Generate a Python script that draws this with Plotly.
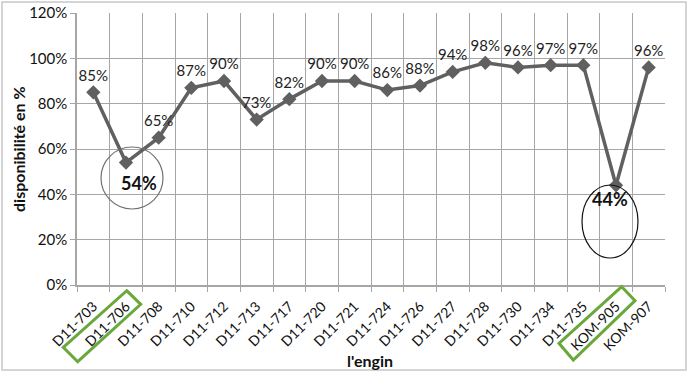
import plotly.graph_objects as go

engins = ["D11-703", "D11-706", "D11-708", "D11-710", "D11-712", "D11-713", "D11-717",
          "D11-720", "D11-721", "D11-724", "D11-726", "D11-727", "D11-728", "D11-730",
          "D11-734", "D11-735", "KOM-905", "KOM-907"]
dispo = [85, 54, 65, 87, 90, 73, 82, 90, 90, 86, 88, 94, 98, 96, 97, 97, 44, 96]
highlight = ["D11-706", "KOM-905"]
y_ticks = [0, 20, 40, 60, 80, 100, 120]

# plot area in pixels
L, R, T, B = 77, 665, 13, 285
W, H = 690, 375


def px(x):
    return (x - L) / (R - L)


def py(y):
    return (B - y) / (B - T)


labels = ["" if e in highlight else f"{v}%" for e, v in zip(engins, dispo)]
font = "Lato, Open Sans, sans-serif"

fig = go.Figure()
fig.add_trace(go.Scatter(
    x=engins, y=dispo, mode="lines+markers+text",
    text=labels, textposition="top center",
    textfont=dict(family=font, size=15, color="#222222"),
    line=dict(color="#606060", width=3.5),
    marker=dict(symbol="diamond", size=11, color="#606060"),
    cliponaxis=False, hoverinfo="skip",
))

shapes = []
annotations = []

i706 = engins.index("D11-706")
i905 = engins.index("KOM-905")
# circle around 54%
shapes.append(dict(type="circle", xref="paper", yref="paper",
                   x0=px(101), x1=px(163), y0=py(209), y1=py(147),
                   line=dict(color="#707070", width=1.2)))
annotations.append(dict(x=engins[i706], y=dispo[i706], xref="x", yref="y",
                        text=f"<b>{dispo[i706]}%</b>", showarrow=False,
                        xshift=13, yshift=-20,
                        font=dict(family=font, size=18, color="#111111")))
# ellipse around 44%
shapes.append(dict(type="circle", xref="paper", yref="paper",
                   x0=px(582), x1=px(638), y0=py(258), y1=py(185),
                   line=dict(color="#111111", width=1.2)))
annotations.append(dict(x=engins[i905], y=dispo[i905], xref="x", yref="y",
                        text=f"<b>{dispo[i905]}%</b>", showarrow=False,
                        xshift=-6, yshift=-14,
                        font=dict(family=font, size=18, color="#111111")))

# axis titles
annotations.append(dict(x=px(370), y=py(360), xref="paper", yref="paper",
                        xanchor="center", yanchor="middle",
                        text="<b>l'engin</b>", showarrow=False,
                        font=dict(family=font, size=16, color="#111111")))
annotations.append(dict(x=px(18), y=py(149), xref="paper", yref="paper",
                        xanchor="center", yanchor="middle",
                        text="<b>disponibilité en %</b>", showarrow=False, textangle=-90,
                        font=dict(family=font, size=16, color="#111111")))


def rot_rect(pts):
    path = "M " + " L ".join(f"{px(a)},{py(b)}" for a, b in pts) + " Z"
    return dict(type="path", xref="paper", yref="paper", path=path,
                line=dict(color="#6aa83c", width=3))


shapes.append(rot_rect([(126.7, 290.7), (140.7, 304.3), (77.7, 361.7), (63.3, 347.3)]))
shapes.append(rot_rect([(621.7, 286.7), (635, 300.7), (573.3, 360), (559, 343.3)]))

# outer frame
shapes.append(dict(type="rect", xref="paper", yref="paper",
                   x0=px(2), x1=px(686), y0=py(370), y1=py(2),
                   line=dict(color="#c8c8c8", width=1.5)))

fig.update_layout(
    width=W, height=H,
    margin=dict(l=L, r=W - R, t=T, b=H - B, autoexpand=False),
    paper_bgcolor="white", plot_bgcolor="white",
    showlegend=False,
    shapes=shapes, annotations=annotations,
    font=dict(family=font, size=13, color="#111111"),
    xaxis=dict(type="category", tickson="boundaries", showgrid=True, automargin=False,
               range=[-0.5, len(engins) - 0.5],
               gridcolor="#a6a6a6", gridwidth=1, ticks="outside", ticklen=5,
               tickcolor="#a6a6a6", tickangle=-45, showline=True,
               linecolor="#a6a6a6", linewidth=1.5, ticklabelstandoff=6,
               tickfont=dict(family=font, size=14, color="#111111")),
    yaxis=dict(range=[0, 120], tickvals=y_ticks, automargin=False,
               ticktext=[f"{v}%" for v in y_ticks],
               showgrid=True, gridcolor="#a6a6a6", gridwidth=1,
               showline=True, linecolor="#a6a6a6", linewidth=1.5,
               ticks="outside", ticklen=5, tickcolor="#a6a6a6", zeroline=False,
               tickfont=dict(family=font, size=15, color="#111111")),
)

fig.write_html("out.html", config={"displayModeBar": False},
               post_script="document.body.style.margin='0px';")
